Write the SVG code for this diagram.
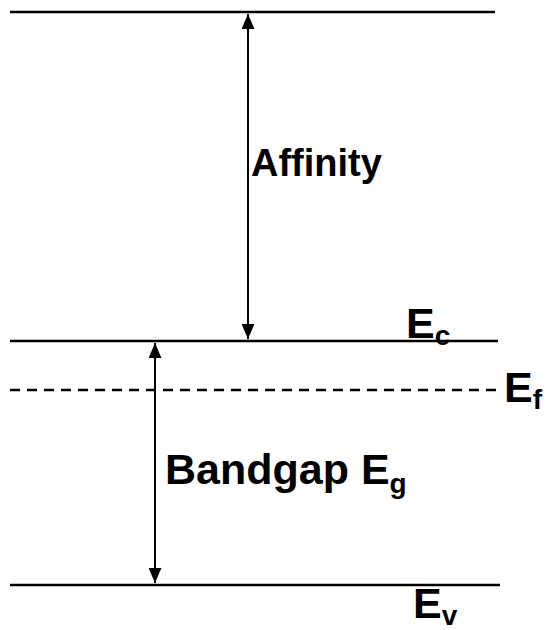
<svg xmlns="http://www.w3.org/2000/svg" width="550" height="630" viewBox="0 0 550 630">
  <style>
    .lvl { stroke: #000; stroke-width: 2.5; fill: none; }
    .dash { stroke: #000; stroke-width: 2.5; stroke-dasharray: 10 7; fill: none; }
    .arr { stroke: #000; stroke-width: 2; fill: none; marker-start: url(#head); marker-end: url(#head); }
    .lbl { font-family: "Liberation Sans", Arial, sans-serif; font-weight: bold; font-size: 43px; fill: #000; }
    .sub { font-size: 28px; }
  </style>
  <defs>
    <marker id="head" viewBox="0 0 14 12" refX="14" refY="6" markerWidth="15" markerHeight="13" markerUnits="userSpaceOnUse" orient="auto-start-reverse">
      <path d="M0,0 L14,6 L0,12 Z" fill="#000"/>
    </marker>
  </defs>

  <!-- energy levels -->
  <g id="vacuum-level"><line class="lvl" x1="10" y1="12" x2="495" y2="12"/></g>
  <g id="conduction-band">
    <line class="lvl" x1="10" y1="341" x2="498" y2="341"/>
    <text class="lbl" x="406" y="338">E<tspan class="sub" dy="7">c</tspan></text>
  </g>
  <g id="fermi-level">
    <line class="dash" x1="10" y1="390" x2="502" y2="390"/>
    <text class="lbl" x="504" y="402">E<tspan class="sub" dy="7">f</tspan></text>
  </g>
  <g id="valence-band">
    <line class="lvl" x1="10" y1="585" x2="500" y2="585"/>
    <text class="lbl" x="413" y="618">E<tspan class="sub" dy="7">v</tspan></text>
  </g>

  <!-- arrows -->
  <g id="connectors">
    <line class="arr" x1="248" y1="14" x2="248" y2="339"/>
    <line class="arr" x1="155" y1="343" x2="155" y2="583"/>
  </g>

  <g id="affinity-label"><text class="lbl" x="251" y="176" style="font-size:38px">Affinity</text></g>
  <g id="bandgap-label"><text class="lbl" x="165" y="484">Bandgap E<tspan class="sub" dy="9">g</tspan></text></g>
</svg>
